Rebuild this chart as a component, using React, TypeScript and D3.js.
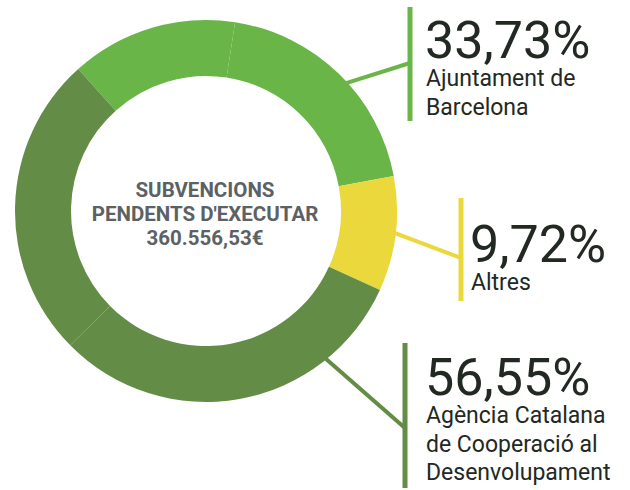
import { useEffect, useRef } from "react";
import * as d3 from "d3";

// share of each funder (labels on the right)
const groups = ["Ajuntament de Barcelona", "Altres", "Agència Catalana de Cooperació al Desenvolupament"];
const shareLabels = ["33,73%", "9,72%", "56,55%"];
const labelLines = [["Ajuntament de", "Barcelona"], ["Altres"], ["Agència Catalana", "de Cooperació al", "Desenvolupament"]];
const colors = ["#6ab548", "#ebd83c", "#638c46"];

// ring segments (each funder drawn in one or two pieces)
const segmentGroup = [0, 0, 1, 2, 2];
const segmentValues = [14.1, 19.63, 9.72, 30.8, 25.75];

const centerLines = ["SUBVENCIONS", "PENDENTS D'EXECUTAR", "360.556,53€"];

export default function App() {
    const svgRef = useRef<SVGSVGElement>(null);

    useEffect(() => {
        const svg = d3.select(svgRef.current);
        svg.selectAll("*").remove();

        const cx = 206, cy = 211;
        const outerR = 191, innerR = 135;
        const deg = Math.PI / 180;

        const g = svg.append("g").attr("transform", `translate(${cx},${cy})`);

        const pie = d3.pie<number>()
            .sort(null)
            .value(d => d)
            .startAngle(-42 * deg)
            .endAngle(318 * deg);

        const arc = d3.arc<d3.PieArcDatum<number>>()
            .innerRadius(innerR)
            .outerRadius(outerR);

        g.selectAll("path.seg")
            .data(pie(segmentValues))
            .enter()
            .append("path")
            .attr("class", "seg")
            .attr("d", arc)
            .attr("fill", (d, i) => colors[segmentGroup[i]]);

        // leader lines + bars + labels
        const anchorAngles = [47.5, 96.6, 141];
        const bars = [
            { x: 410, y0: 7, y1: 121, joinY: 63 },
            { x: 461, y0: 198, y1: 301, joinY: 258 },
            { x: 405, y0: 343, y1: 488, joinY: 428 },
        ];
        const numberBaselines = [58, 262, 395];
        const textX = [425, 470, 425];

        groups.forEach((name, i) => {
            const a = anchorAngles[i] * deg;
            const sx = cx + (outerR - 2) * Math.sin(a);
            const sy = cy - (outerR - 2) * Math.cos(a);
            const b = bars[i];

            svg.append("line")
                .attr("x1", sx).attr("y1", sy)
                .attr("x2", b.x).attr("y2", b.joinY)
                .attr("stroke", colors[i])
                .attr("stroke-width", 4);

            svg.append("line")
                .attr("x1", b.x).attr("y1", b.y0)
                .attr("x2", b.x).attr("y2", b.y1)
                .attr("stroke", colors[i])
                .attr("stroke-width", 5);

            svg.append("text")
                .attr("x", textX[i])
                .attr("y", numberBaselines[i])
                .attr("font-family", "Roboto")
                .attr("font-size", 52)
                .attr("fill", "#222822")
                .text(shareLabels[i]);

            labelLines[i].forEach((line, j) => {
                svg.append("text")
                    .attr("x", textX[i] + 1)
                    .attr("y", numberBaselines[i] + 28 + j * 28.5)
                    .attr("font-family", "Roboto")
                    .attr("font-size", 23)
                    .attr("fill", "#222822")
                    .text(line);
            });
        });

        // centre caption
        centerLines.forEach((line, i) => {
            g.append("text")
                .attr("x", -1)
                .attr("y", -14 + i * 24)
                .attr("text-anchor", "middle")
                .attr("font-family", "Roboto")
                .attr("font-weight", 700)
                .attr("font-size", 20.5)
                .attr("fill", "#5c6164")
                .text(line);
        });
    }, []);

    return (
        <svg
            ref={svgRef}
            width={630}
            height={490}
            style={{ position: "absolute", left: 0, top: 0, background: "#fff" }}
        />
    );
}
